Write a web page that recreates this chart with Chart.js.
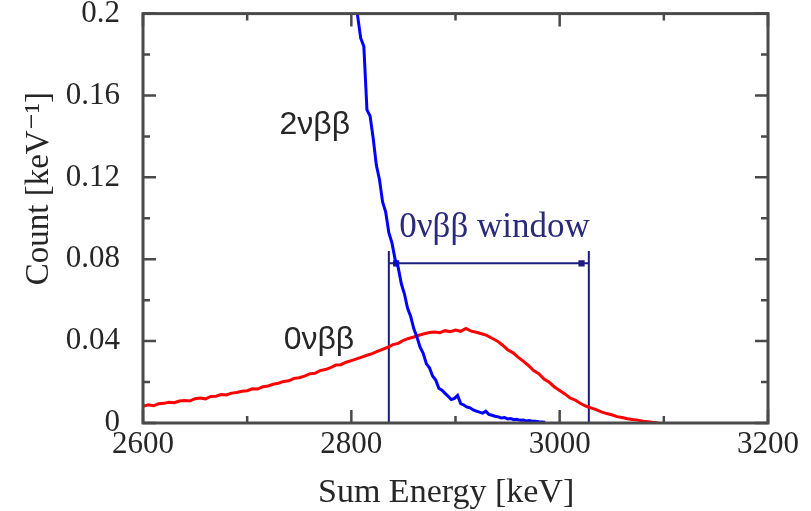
<!DOCTYPE html>
<html>
<head>
<meta charset="utf-8">
<script src="https://cdn.jsdelivr.net/npm/chart.js@4.4.1/dist/chart.umd.min.js"></script>
<style>
html, body { margin: 0; padding: 0; background: #fff; overflow: hidden; }
#wrap { position: absolute; left: 0; top: -20px; width: 811px; height: 531px; }
</style>
</head>
<body>
<div id="wrap"><canvas id="myChart" width="811" height="531"></canvas></div>
<script>
// sum energy spectra, counts per keV
var redStart = 2600, redStep = 5;   // 0vbb bins
var redCounts = [
  0.0082, 0.0089, 0.0084, 0.0094, 0.0096, 0.0101, 0.0099, 0.0107, 0.0110, 0.0108,
  0.0119, 0.0122, 0.0118, 0.0130, 0.0131, 0.0139, 0.0137, 0.0146, 0.0149, 0.0155,
  0.0158, 0.0167, 0.0166, 0.0177, 0.0181, 0.0189, 0.0194, 0.0203, 0.0206, 0.0218,
  0.0221, 0.0229, 0.0240, 0.0243, 0.0256, 0.0261, 0.0270, 0.0283, 0.0285, 0.0297,
  0.0305, 0.0313, 0.0322, 0.0331, 0.0339, 0.0350, 0.0360, 0.0370, 0.0383, 0.0389,
  0.0404, 0.0413, 0.0420, 0.0429, 0.0436, 0.0442, 0.0445, 0.0441, 0.0451, 0.0446,
  0.0454, 0.0448, 0.0462, 0.0449, 0.0443, 0.0436, 0.0428, 0.0414, 0.0401, 0.0381,
  0.0358, 0.0344, 0.0322, 0.0302, 0.0281, 0.0256, 0.0241, 0.0215, 0.0199, 0.0176,
  0.0159, 0.0142, 0.0122, 0.0112, 0.0095, 0.0083, 0.0074, 0.0065, 0.0054, 0.0046,
  0.0040, 0.0031, 0.0027, 0.0021, 0.0017, 0.0014, 0.0009, 0.0006, 0.0003, 0.0000
];
var blueStart = 2800, blueStep = 3; // 2vbb bins
var blueCounts = [
  0.222, 0.207, 0.199, 0.188, 0.184, 0.153, 0.150, 0.139, 0.126, 0.119,
  0.108, 0.103, 0.093, 0.088, 0.080, 0.076, 0.068, 0.063, 0.056, 0.052,
  0.046, 0.042, 0.037, 0.034, 0.029, 0.027, 0.023, 0.021, 0.017, 0.016,
  0.0145, 0.013, 0.0115, 0.012, 0.0135, 0.0095, 0.0088, 0.0078, 0.0074, 0.0064,
  0.0058, 0.0053, 0.0048, 0.0058, 0.0042, 0.0038, 0.0033, 0.0030, 0.0025, 0.0027,
  0.0020, 0.0022, 0.0016, 0.0018, 0.0013, 0.0014, 0.0010, 0.0012, 0.0008, 0.0009,
  0.0006, 0.0005, 0.0004
];

// 0vbb window edges [keV] and bracket heights
var windowLo = 2836, windowHi = 3028;
var windowTop = 0.084, windowArrow = 0.078;

// axis ticks
var xTickLabels = [2600, 2800, 3000, 3200];
var xMinorTicks = [2700, 2900, 3100];
var yTickLabels = [0, 0.04, 0.08, 0.12, 0.16, 0.2];
var yMinorTicks = [0.02, 0.06, 0.1, 0.14, 0.18];

function toPoints(start, step, arr) {
  return arr.map(function(v, i) { return { x: start + i * step, y: v }; });
}

var serif = "'Liberation Serif', 'DejaVu Serif', serif";
var sans = "'Liberation Sans', 'DejaVu Sans', sans-serif";
var ink = '#262626';

// frame with inward ticks on all four sides, axis titles, curve labels
var boxPlugin = {
  id: 'box',
  afterDatasetsDraw: function(chart) {
    var ctx = chart.ctx, a = chart.chartArea;
    var xs = chart.scales.x, ys = chart.scales.y;
    ctx.save();
    ctx.strokeStyle = '#4a4a4a';
    ctx.lineWidth = 2.5;
    ctx.beginPath();
    function xt(v, len) {
      var p = xs.getPixelForValue(v);
      ctx.moveTo(p, a.bottom); ctx.lineTo(p, a.bottom - len);
      ctx.moveTo(p, a.top); ctx.lineTo(p, a.top + len);
    }
    function yt(v, len) {
      var p = ys.getPixelForValue(v);
      ctx.moveTo(a.left, p); ctx.lineTo(a.left + len, p);
      ctx.moveTo(a.right, p); ctx.lineTo(a.right - len, p);
    }
    xTickLabels.forEach(function(v) { xt(v, 13); });
    xMinorTicks.forEach(function(v) { xt(v, 7); });
    yTickLabels.forEach(function(v) { yt(v, 13); });
    yMinorTicks.forEach(function(v) { yt(v, 7); });
    ctx.stroke();
    ctx.lineWidth = 3;
    ctx.strokeRect(a.left, a.top, a.right - a.left, a.bottom - a.top);

    ctx.fillStyle = ink;
    ctx.textBaseline = 'middle';
    ctx.textAlign = 'center';

    // x title, a little left of the axis middle
    ctx.font = '34px ' + serif;
    ctx.fillText('Sum Energy [keV]', xs.getPixelForValue(2891), a.bottom + 70);

    // y title sits above the middle of the axis
    ctx.font = '33px ' + serif;
    ctx.save();
    ctx.translate(39, ys.getPixelForValue(0.1145));
    ctx.rotate(-Math.PI / 2);
    ctx.fillText('Count [keV⁻¹]', 0, 0);
    ctx.restore();

    ctx.textAlign = 'left';
    ctx.font = '32px ' + sans;
    ctx.fillText('2νββ', xs.getPixelForValue(2731), ys.getPixelForValue(0.1455));
    ctx.fillText('0νββ', xs.getPixelForValue(2735), ys.getPixelForValue(0.0405));
    ctx.fillStyle = '#2a2a7a';
    ctx.font = '35px ' + serif;
    ctx.fillText('0νββ window', xs.getPixelForValue(2846), ys.getPixelForValue(0.0955));
    ctx.restore();
  }
};

var ctx = document.getElementById('myChart').getContext('2d');
var myChart = new Chart(ctx, {
  type: 'line',
  data: {
    datasets: [
      {
        label: '2vbb',
        data: toPoints(blueStart, blueStep, blueCounts),
        borderColor: '#0000ff',
        borderWidth: 3,
        pointRadius: 0,
        tension: 0
      },
      {
        label: '0vbb',
        data: toPoints(redStart, redStep, redCounts),
        borderColor: '#ff0000',
        borderWidth: 3,
        pointRadius: 0,
        tension: 0
      },
      {
        label: 'window arrow',
        data: [
          { x: windowLo, y: windowArrow }, { x: windowLo + 7, y: windowArrow },
          { x: windowHi - 7, y: windowArrow }, { x: windowHi, y: windowArrow }
        ],
        borderColor: '#1c1c80',
        backgroundColor: '#1c1c80',
        borderWidth: 2,
        pointStyle: 'rect',
        pointRadius: [0, 3, 3, 0],
        tension: 0
      },
      {
        label: 'window lo',
        data: [{ x: windowLo, y: 0 }, { x: windowLo, y: windowTop }],
        borderColor: '#1c1c80',
        borderWidth: 2,
        pointRadius: 0
      },
      {
        label: 'window hi',
        data: [{ x: windowHi, y: 0 }, { x: windowHi, y: windowTop }],
        borderColor: '#1c1c80',
        borderWidth: 2,
        pointRadius: 0
      }
    ]
  },
  options: {
    responsive: false,
    animation: false,
    devicePixelRatio: 1,
    layout: { padding: { top: 33, right: 43, bottom: 0, left: 0 } },
    plugins: { legend: { display: false }, tooltip: { enabled: false } },
    scales: {
      x: {
        type: 'linear',
        min: 2600,
        max: 3200,
        grid: { display: false },
        border: { display: false },
        afterBuildTicks: function(scale) {
          scale.ticks = xTickLabels.map(function(v) { return { value: v }; });
        },
        afterFit: function(scale) { scale.height = 88; },
        ticks: {
          autoSkip: false,
          maxRotation: 0,
          padding: -5,
          color: ink,
          font: { family: serif, size: 31 },
          callback: function(v) { return String(v); }
        }
      },
      y: {
        min: 0,
        max: 0.2,
        grid: { display: false },
        border: { display: false },
        afterBuildTicks: function(scale) {
          scale.ticks = yTickLabels.map(function(v) { return { value: v }; });
        },
        afterFit: function(scale) { scale.width = 143; },
        ticks: {
          padding: 15,
          color: ink,
          font: { family: serif, size: 31 },
          callback: function(v) { return String(v); }
        }
      }
    }
  },
  plugins: [boxPlugin]
});
</script>
</body>
</html>
